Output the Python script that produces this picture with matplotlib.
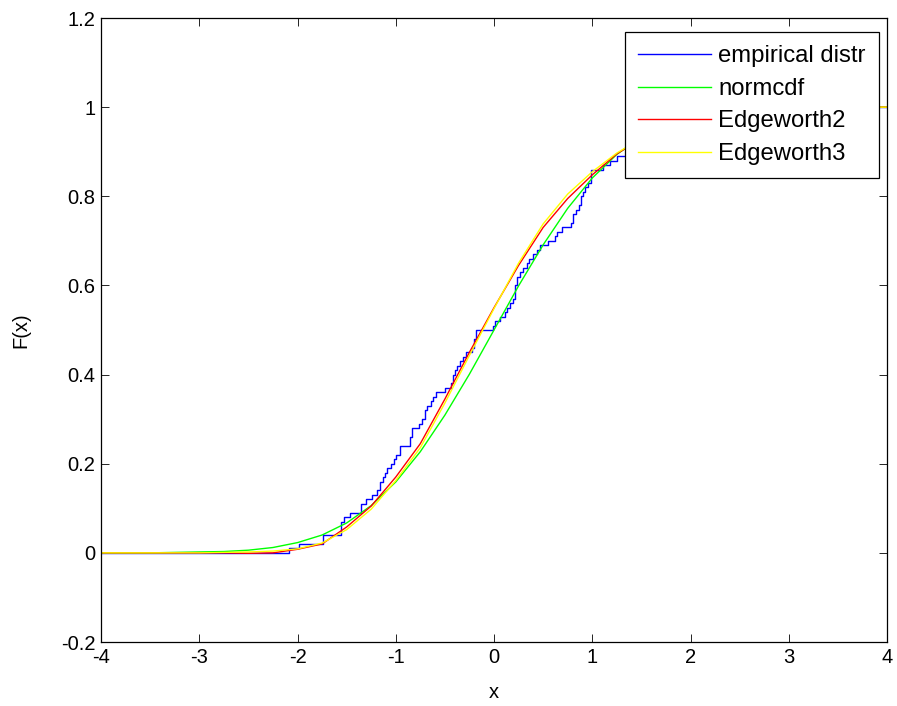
import matplotlib
matplotlib.use("Agg")
import matplotlib.pyplot as plt
import numpy as np

# empirical distribution: jump positions and level after each jump
emp_x = [-2.09, -1.98, -1.74, -1.56, -1.53, -1.47, -1.35, -1.30, -1.24, -1.19,
         -1.16, -1.13, -1.11, -1.09, -1.05, -1.02, -1.00, -0.96, -0.85, -0.83,
         -0.76, -0.73, -0.70, -0.68, -0.64, -0.62, -0.59, -0.50, -0.44, -0.42,
         -0.40, -0.38, -0.35, -0.32, -0.28, -0.22, -0.20, -0.18, -0.01, 0.01,
         0.06, 0.11, 0.13, 0.16, 0.19, 0.21, 0.23, 0.26, 0.30, 0.34,
         0.36, 0.40, 0.44, 0.47, 0.55, 0.62, 0.64, 0.69, 0.78, 0.80,
         0.83, 0.87, 0.89, 0.91, 0.93, 0.96, 0.99, 1.11, 1.18, 1.25,
         1.35, 1.50, 1.65, 1.85, 2.05, 2.20, 2.40, 2.60, 2.90, 3.10, 3.40]
emp_y = [0.01, 0.02, 0.04, 0.07, 0.08, 0.09, 0.11, 0.12, 0.13, 0.14,
         0.16, 0.17, 0.18, 0.19, 0.20, 0.21, 0.22, 0.24, 0.26, 0.28,
         0.29, 0.30, 0.32, 0.33, 0.34, 0.35, 0.36, 0.37, 0.38, 0.40,
         0.41, 0.42, 0.43, 0.44, 0.45, 0.46, 0.48, 0.50, 0.51, 0.52,
         0.53, 0.54, 0.55, 0.56, 0.57, 0.60, 0.62, 0.63, 0.64, 0.65,
         0.66, 0.67, 0.68, 0.69, 0.70, 0.71, 0.72, 0.73, 0.74, 0.76,
         0.77, 0.78, 0.80, 0.81, 0.82, 0.83, 0.86, 0.87, 0.88, 0.89,
         0.90, 0.91, 0.92, 0.93, 0.94, 0.95, 0.96, 0.97, 0.98, 0.99, 1.00]

# smooth curves
grid_x = [-4, -3.75, -3.5, -3.25, -3, -2.75, -2.5, -2.25, -2, -1.75, -1.5, -1.25,
          -1, -0.75, -0.5, -0.25, 0, 0.25, 0.5, 0.75, 1, 1.25, 1.5, 1.75,
          2, 2.25, 2.5, 2.75, 3, 3.5, 4]
normcdf = [0.0, 0.0, 0.0, 0.001, 0.002, 0.003, 0.006, 0.012, 0.023, 0.040, 0.067, 0.106,
           0.159, 0.227, 0.309, 0.401, 0.500, 0.599, 0.691, 0.773, 0.841, 0.894, 0.933, 0.960,
           0.977, 0.988, 0.994, 0.997, 0.999, 1.0, 1.0]
edge2 = [0.0, 0.0, 0.0, 0.0, 0.0, 0.0, -0.001, 0.0, 0.008, 0.020, 0.058, 0.105,
         0.170, 0.245, 0.345, 0.450, 0.550, 0.645, 0.730, 0.795, 0.848, 0.895, 0.930, 0.955,
         0.975, 0.986, 0.993, 0.997, 0.999, 1.0, 1.0]
edge3 = [0.0, 0.0, 0.0, 0.0, 0.0, 0.001, 0.002, 0.004, 0.009, 0.022, 0.052, 0.098,
         0.162, 0.236, 0.336, 0.443, 0.548, 0.650, 0.738, 0.805, 0.855, 0.897, 0.930, 0.955,
         0.975, 0.986, 0.993, 0.997, 0.999, 1.0, 1.0]

plt.rcParams['font.family'] = ['Liberation Sans', 'DejaVu Sans']
plt.rcParams['axes.unicode_minus'] = False

fig = plt.figure(figsize=(8.97, 7.06), dpi=100)
ax = fig.add_axes([101/897, 64/706, 786/897, 624/706])

sx = [-4] + emp_x + [4]
sy = [0] + emp_y + [1]
ax.step(sx, sy, where='post', color=(0, 0, 1), lw=1.0, label='empirical distr')
ax.plot(grid_x, normcdf, color=(0, 1, 0), lw=1.0, label='normcdf')
ax.plot(grid_x, edge2, color=(1, 0, 0), lw=1.0, label='Edgeworth2')
ax.plot(grid_x, edge3, color=(1, 1, 0), lw=1.0, label='Edgeworth3')

ax.set_xlim(-4, 4)
ax.set_ylim(-0.2, 1.2)
ax.set_xticks(np.arange(-4, 5, 1))
ax.set_yticks([-0.2, 0, 0.2, 0.4, 0.6, 0.8, 1, 1.2])
ax.set_yticklabels(["-0.2", "0", "0.2", "0.4", "0.6", "0.8", "1", "1.2"])
ax.tick_params(direction='in', length=5.5, width=0.6, top=True, right=True,
               labelsize=14.5, pad=4)
for s in ax.spines.values():
    s.set_linewidth(0.9)

ax.set_xlabel('x', fontsize=14.5, labelpad=12)
ax.set_ylabel('F(x)', fontsize=14.5, labelpad=22)

leg = ax.legend(loc='upper right', bbox_to_anchor=(879/897, 1 - 32/706),
                bbox_transform=fig.transFigure, fontsize=17.2, fancybox=False,
                framealpha=1, edgecolor='black', handlelength=3.05,
                handletextpad=0.3, labelspacing=0.44, borderpad=0.56,
                borderaxespad=0)
leg.get_frame().set_linewidth(0.9)

fig.savefig('out.png', dpi=100)
